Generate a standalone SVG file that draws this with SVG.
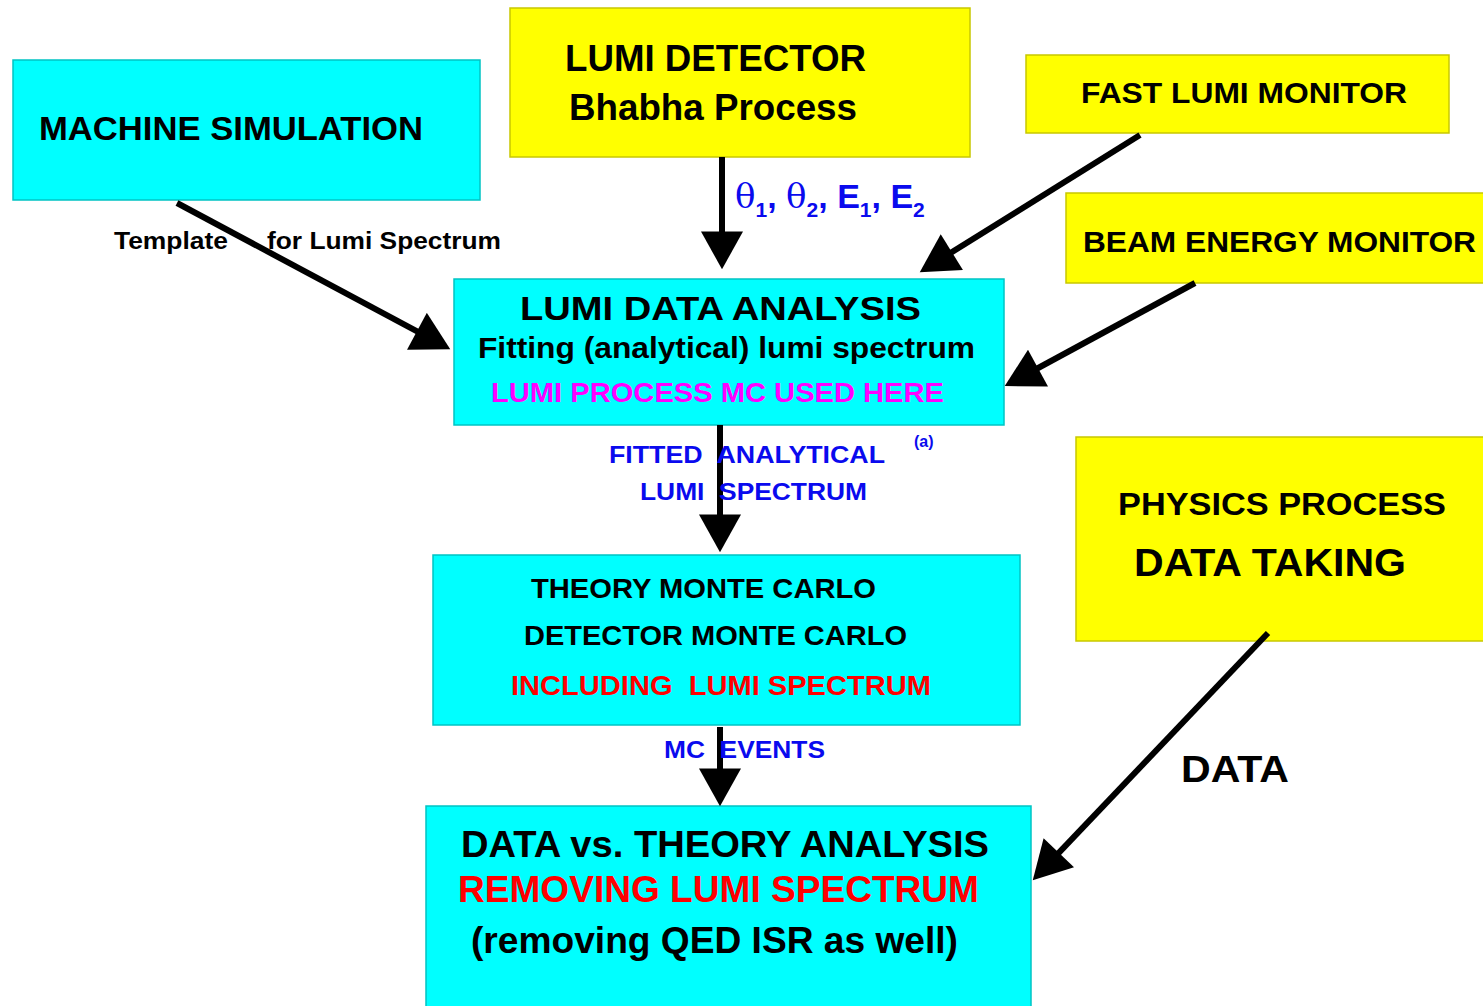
<svg xmlns="http://www.w3.org/2000/svg" width="1483" height="1006" viewBox="0 0 1483 1006">
<style>
.t{font-family:"Liberation Sans",Arial,sans-serif;font-weight:bold;}
.cy{fill:#00ffff;stroke:#00c4c4;stroke-width:1.5;}
.ye{fill:#ffff00;stroke:#c8c800;stroke-width:1.5;}
.bk{fill:#000000;}
.bl{fill:#0a0aee;}
.rd{fill:#ff0000;}
.mg{fill:#ff00ff;}
.c{stroke:#000;stroke-width:6;fill:none;marker-end:url(#ah);}
</style>
<defs>
<marker id="ah" markerUnits="userSpaceOnUse" markerWidth="40" markerHeight="42" refX="30" refY="20" orient="auto" viewBox="0 0 36 40">
<path d="M0,0 L36,20 L0,40 z" fill="#000"/>
</marker>
</defs>
<rect width="1483" height="1006" fill="#ffffff"/>

<g id="machine-simulation">
<rect class="cy" x="13" y="60" width="467" height="140"/>
<text class="t bk" x="39" y="140" font-size="34" textLength="384" lengthAdjust="spacingAndGlyphs">MACHINE SIMULATION</text>
</g>

<g id="lumi-detector">
<rect class="ye" x="510" y="8" width="460" height="149"/>
<text class="t bk" x="565" y="71" font-size="36" textLength="301" lengthAdjust="spacingAndGlyphs">LUMI DETECTOR</text>
<text class="t bk" x="569" y="120" font-size="36" textLength="288" lengthAdjust="spacingAndGlyphs">Bhabha Process</text>
</g>

<g id="fast-lumi-monitor">
<rect class="ye" x="1026" y="55" width="423" height="78"/>
<text class="t bk" x="1081" y="103" font-size="30" textLength="326" lengthAdjust="spacingAndGlyphs">FAST LUMI MONITOR</text>
</g>

<g id="beam-energy-monitor">
<rect class="ye" x="1066" y="193" width="420" height="90"/>
<text class="t bk" x="1083" y="252" font-size="30" textLength="393" lengthAdjust="spacingAndGlyphs">BEAM ENERGY MONITOR</text>
</g>

<g id="lumi-data-analysis">
<rect class="cy" x="454" y="279" width="550" height="146"/>
<text class="t bk" x="520" y="320" font-size="34" textLength="401" lengthAdjust="spacingAndGlyphs">LUMI DATA ANALYSIS</text>
<text class="t bk" x="478" y="358" font-size="30" textLength="497" lengthAdjust="spacingAndGlyphs">Fitting (analytical) lumi spectrum</text>
<text class="t mg" x="491" y="402" font-size="28" textLength="453" lengthAdjust="spacingAndGlyphs">LUMI PROCESS MC USED HERE</text>
</g>

<g id="physics-process">
<rect class="ye" x="1076" y="437" width="410" height="204"/>
<text class="t bk" x="1118" y="515" font-size="32" textLength="328" lengthAdjust="spacingAndGlyphs">PHYSICS PROCESS</text>
<text class="t bk" x="1134" y="576" font-size="38" textLength="272" lengthAdjust="spacingAndGlyphs">DATA TAKING</text>
</g>

<g id="theory-monte-carlo">
<rect class="cy" x="433" y="555" width="587" height="170"/>
<text class="t bk" x="531" y="598" font-size="28" textLength="345" lengthAdjust="spacingAndGlyphs">THEORY MONTE CARLO</text>
<text class="t bk" x="524" y="645" font-size="28" textLength="383" lengthAdjust="spacingAndGlyphs">DETECTOR MONTE CARLO</text>
<text class="t rd" x="511" y="695" font-size="28" textLength="420" lengthAdjust="spacingAndGlyphs" xml:space="preserve">INCLUDING  LUMI SPECTRUM</text>
</g>

<g id="data-vs-theory-analysis">
<rect class="cy" x="426" y="806" width="605" height="206"/>
<text class="t bk" x="461" y="857" font-size="36" textLength="528" lengthAdjust="spacingAndGlyphs">DATA vs. THEORY ANALYSIS</text>
<text class="t rd" x="458" y="902" font-size="36" textLength="521" lengthAdjust="spacingAndGlyphs">REMOVING LUMI SPECTRUM</text>
<text class="t bk" x="471" y="953" font-size="36" textLength="487" lengthAdjust="spacingAndGlyphs">(removing QED ISR as well)</text>
</g>

<g id="connectors">
<line class="c" x1="177" y1="203" x2="444.7" y2="346.2"/>
<line class="c" x1="722" y1="157" x2="722" y2="263"/>
<line class="c" x1="1140" y1="135" x2="925.1" y2="268.8"/>
<line class="c" x1="1195" y1="283" x2="1010.3" y2="383.1"/>
<line class="c" x1="720" y1="425" x2="720" y2="546"/>
<line class="c" x1="720" y1="727" x2="720" y2="800"/>
<line class="c" x1="1268" y1="633" x2="1037.1" y2="875.6"/>
</g>

<g id="labels">
<text class="t bk" font-size="24" y="249"><tspan x="114" textLength="114" lengthAdjust="spacingAndGlyphs">Template</tspan><tspan x="267" textLength="234" lengthAdjust="spacingAndGlyphs">for Lumi Spectrum</tspan></text>
<text class="bl" font-size="34" y="208" x="735" font-family="'Liberation Sans',Arial,sans-serif" font-weight="bold"><tspan font-family="'DejaVu Serif','Liberation Serif',serif" font-weight="normal">θ</tspan><tspan font-size="21" dy="9">1</tspan><tspan dy="-9">, </tspan><tspan font-family="'DejaVu Serif','Liberation Serif',serif" font-weight="normal">θ</tspan><tspan font-size="21" dy="9">2</tspan><tspan dy="-9">, E</tspan><tspan font-size="21" dy="9">1</tspan><tspan dy="-9">, E</tspan><tspan font-size="21" dy="9">2</tspan></text>
<text class="t bl" x="609" y="463" font-size="24" textLength="276" lengthAdjust="spacingAndGlyphs" xml:space="preserve">FITTED  ANALYTICAL</text>
<text class="t bl" x="640" y="500" font-size="24" textLength="227" lengthAdjust="spacingAndGlyphs" xml:space="preserve">LUMI  SPECTRUM</text>
<text class="t bl" x="914" y="447" font-size="16">(a)</text>
<text class="t bl" x="664" y="758" font-size="24" textLength="161" lengthAdjust="spacingAndGlyphs" xml:space="preserve">MC  EVENTS</text>
<text class="t bk" x="1181" y="782" font-size="36" textLength="108" lengthAdjust="spacingAndGlyphs">DATA</text>
</g>
</svg>
